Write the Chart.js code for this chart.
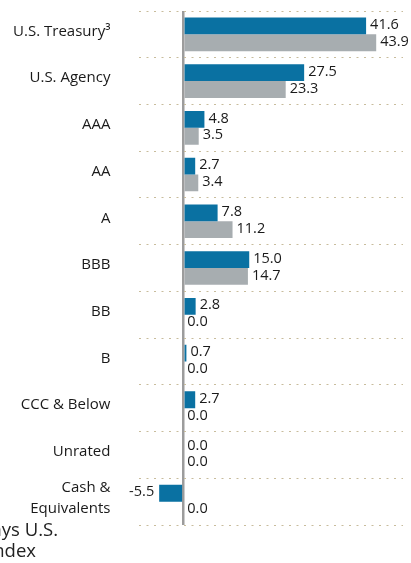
<!DOCTYPE html>
<html>
<head>
<meta charset="utf-8">
<script src="https://cdn.jsdelivr.net/npm/chart.js@4.4.0/dist/chart.umd.min.js"></script>
<style>
  html, body { margin: 0; padding: 0; background: #fff; }
  #wrap { width: 411px; height: 563px; }
</style>
</head>
<body>
<div id="wrap"><canvas id="qualityChart" width="411" height="563"></canvas></div>
<script>
// 신용등급별 비중 (%)
const categories = [
  "U.S. Treasury³", "U.S. Agency", "AAA", "AA", "A", "BBB",
  "BB", "B", "CCC & Below", "Unrated", ["Cash &", "Equivalents"]
];
const fundValues  = [41.6, 27.5, 4.8, 2.7, 7.8, 15.0, 2.8, 0.7, 2.7, 0.0, -5.5];
const indexValues = [43.9, 23.3, 3.5, 3.4, 11.2, 14.7, 0.0, 0.0, 0.0, 0.0, 0.0];
const legendLines = ["Bloomberg Barclays U.S.", "Aggregate Index"];

const FONT = "'Open Sans', 'Noto Sans', sans-serif";

// 막대 끝에 값 표시
const valueLabels = {
  id: "valueLabels",
  afterDatasetsDraw(chart) {
    const ctx = chart.ctx;
    ctx.save();
    ctx.font = "14.5px " + FONT;
    ctx.fillStyle = "#1a1a1a";
    ctx.textBaseline = "middle";
    chart.data.datasets.forEach((ds, di) => {
      const meta = chart.getDatasetMeta(di);
      meta.data.forEach((bar, i) => {
        const v = ds.data[i];
        const txt = v.toFixed(1);
        if (v < 0) {
          ctx.textAlign = "right";
          ctx.fillText(txt, bar.x - 5, bar.y - 1);
        } else {
          ctx.textAlign = "left";
          ctx.fillText(txt, bar.x + 4, bar.y - 1);
        }
      });
    });
    ctx.restore();
  }
};

// 아래쪽 잘린 범례 텍스트
const cutLegend = {
  id: "cutLegend",
  afterDraw(chart) {
    const ctx = chart.ctx;
    ctx.save();
    ctx.font = "18.5px " + FONT;
    ctx.fillStyle = "#222";
    ctx.textAlign = "right";
    ctx.textBaseline = "alphabetic";
    ctx.fillText(legendLines[0], 58, 536);
    ctx.fillText(legendLines[1], 36, 557);
    ctx.restore();
  }
};

const qualityConfig = {
  type: "bar",
  data: {
    labels: categories,
    datasets: [
      {
        label: "Fund",
        data: fundValues,
        backgroundColor: "#0a71a2",
        barPercentage: 1.0,
        categoryPercentage: 0.72,
      },
      {
        label: "Index",
        data: indexValues,
        backgroundColor: "#a7adb0",
        barPercentage: 1.0,
        categoryPercentage: 0.72,
      },
    ],
  },
  options: {
    indexAxis: "y",
    responsive: false,
    animation: false,
    layout: { padding: { top: 11, bottom: 38, right: 8, left: 0 } },
    scales: {
      x: {
        min: -10,
        max: 50,
        ticks: { display: false, stepSize: 10 },
        border: { display: false },
        grid: {
          drawTicks: false,
          lineWidth: 2.5,
          color: (c) => (c.tick && c.tick.value === 0 ? "#9c9c9c" : "transparent"),
        },
        afterFit(scale) {
          scale.height = 0;
          scale.paddingLeft = 0;
          scale.paddingRight = 0;
        },
      },
      y: {
        border: { display: false, dash: [2, 5.5] },
        grid: {
          offset: true,
          drawTicks: false,
          color: "#c8bc9c",
          lineWidth: 1,
        },
        ticks: {
          padding: 29,
          labelOffset: -3,
          color: "#1a1a1a",
          font: { family: FONT, size: 15, lineHeight: 1.4 },
        },
        afterFit(scale) {
          scale.width = 139.4;
          scale.paddingTop = 0;
          scale.paddingBottom = 0;
        },
      },
    },
    plugins: {
      legend: { display: false },
      tooltip: { enabled: false },
    },
  },
  plugins: [valueLabels, cutLegend],
};

const qualityCtx = document.getElementById("qualityChart").getContext("2d");
const qualityChart = new Chart(qualityCtx, qualityConfig);
</script>
</body>
</html>
